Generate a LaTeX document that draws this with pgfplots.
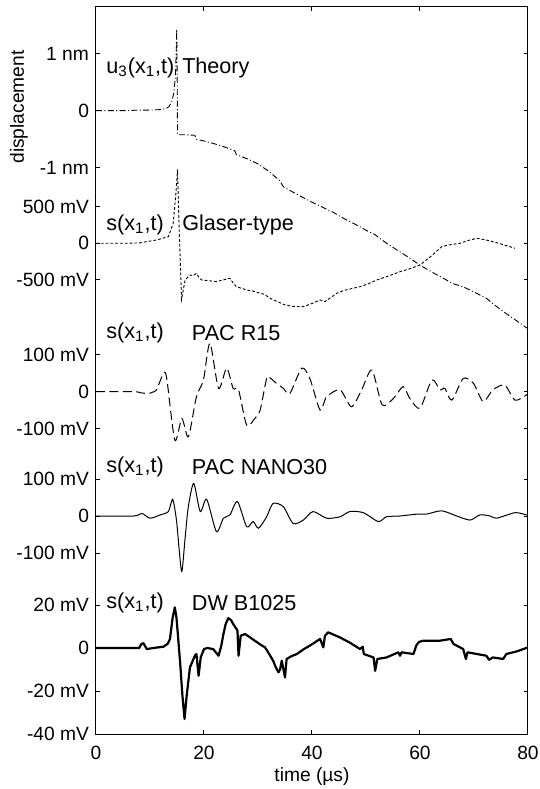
\documentclass[border=0pt]{standalone}
\usepackage{fontspec}
\setmainfont{Liberation Sans}
\usepackage{pgfplots}
\usepackage{pgfplotstable}
\pgfplotsset{compat=1.18}

% time in microseconds, u in nm
\pgfplotstableread{
t u
0 0
5 0
8 0.01
10 0.01
12 0.02
13 0.04
13.5 0.07
14 0.15
14.4 0.3
14.7 0.6
14.85 1.0
14.95 1.43
15.05 0.4
15.1 -0.42
16.5 -0.42
18.3 -0.43
18.6 -0.5
20 -0.53
22 -0.58
24 -0.64
25.7 -0.70
26 -0.77
28 -0.84
30 -0.93
32 -1.06
34 -1.22
34.7 -1.33
36 -1.40
38 -1.50
40 -1.60
42 -1.69
44 -1.78
46 -1.89
48.9 -2.03
50 -2.09
51.7 -2.17
54 -2.33
56 -2.45
58 -2.57
60 -2.70
62 -2.81
64.9 -2.96
66 -3.02
68 -3.08
70 -3.17
72.3 -3.28
74 -3.41
76 -3.55
78 -3.68
79.8 -3.80
}\theory

% Glaser-type sensor, mV
\pgfplotstableread{
t v
0 0
5 0
8 5
11.2 45
13.4 90
14.3 272
14.8 681
15.1 1008
15.4 200
15.85 -763
16.5 -500
17.1 -455
17.4 -432
18.0 -440
18.6 -409
19.1 -470
19.6 -500
21 -510
22.3 -523
23.5 -500
24.8 -477
25.4 -540
26 -591
27.9 -636
29 -650
30.4 -681
31 -690
32.8 -772
33.5 -790
35 -840
36.5 -860
38.4 -863
40 -820
41.5 -772
42.4 -795
44.6 -681
46 -640
48.9 -591
50.5 -550
52 -500
54 -450
56.3 -387
58 -350
60 -296
62 -180
64 -46
65.5 -20
67.4 0
69 40
70.5 68
72 50
73.5 22
75.5 -20
77.6 -68
}\glaser

% PAC R15, mV
\pgfplotstableread{
t v
0 0
7 0
8.3 -3
9.7 -5
10.5 -1
11.2 5
12.5 50
13.1 36
14.6 -132
15.9 -73
17.1 -123
18.6 -14
19.9 32
21.1 132
22.7 9
24.2 64
25.4 9
26.4 5
27.9 -91
29.4 -73
30.4 -50
31.6 36
32.2 38
33.4 23
34.7 9
35.9 -5
38.1 64
39.6 36
41.5 -50
42.7 -14
45.2 5
47.3 -41
49.2 5
51.1 59
53 -36
55.1 -18
56.9 14
58.1 -18
60 -45
62.2 32
63.7 5
64.6 9
65.9 -23
68 36
69.9 23
71.7 -27
73.5 5
75.7 18
77.6 -23
79.7 -9
80 -5
}\rfifteen

% PAC NANO30, mV
\pgfplotstableread{
t v
0 0
7 0
8.5 7
10 -6
11.9 3
13.4 12
14.2 45
14.9 -11
15.4 -90
15.9 -150
16.5 -60
17.1 25
18.1 88
19.3 12
20.5 45
22.3 -42
23.6 -6
24.8 3
26.2 39
27.9 -29
29.1 -15
30.1 -33
31.6 -2
32.8 34
34.7 25
36.5 -20
38.4 -11
40.2 12
42.7 -6
45.2 -2
47 12
49.5 9
52.3 -15
53.8 -2
56.3 0
59.4 5
61.2 5
64 14
66.8 0
69.3 -11
71.1 3
73 0
74.2 -6
77.6 9
79.7 3
80 3
}\nano

% DW B1025, mV
\pgfplotstableread{
t v
0 0
8 0
8.4 1.9
8.8 2.2
9.4 -0.5
10.6 0
12.5 0.6
13.3 2
13.7 4.2
14.2 14.2
14.6 18.9
14.9 14.2
15.3 2
15.6 -7.4
16 -22
16.4 -33
16.8 -22
17.4 -9
18.3 -3.6
18.6 -2.8
19.0 -12.9
19.4 -4.3
20 -0.5
20.6 0
21.7 -0.5
22.7 -3.6
23.2 1
23.6 6.5
24 11
24.5 13.9
25 13
25.4 11.2
26.2 8.1
26.4 -3.6
26.8 5.7
27.6 6.5
28.5 5
29.4 3.4
30.5 1.5
31.3 0.3
32 -2.5
32.8 -5.9
33.3 -9
33.8 -11.3
34.1 -9.8
34.4 -5.9
35 -13.7
35.3 -5.1
36.2 -3.8
37.2 -2.8
38.5 -0.5
39.6 1.1
41.5 4.2
42.1 0.3
42.4 5.7
43 7.3
44 6.2
45.2 4.9
47 2.5
48.9 -0.5
49.4 0.6
49.6 -2.8
51.4 -4.4
51.7 -10.6
52.1 -5.1
53.8 -4.4
56 -2
56.3 -3.6
56.6 -2
58.8 -2.8
59.3 1.1
59.8 2.8
60.6 3.4
63.7 3.4
65.7 4.2
66.2 1.9
68 -0.5
68.5 -5.1
68.8 -2
72.3 -3.6
72.8 -5.5
73.5 -4.4
75.4 -5.1
76 -2.8
77.9 -1.6
79.7 0
80 0.3
}\dw

\newcommand\tickfont{\fontsize{9.6}{11}\selectfont}
\newcommand\notefont{\fontsize{10.8}{12}\selectfont}

\begin{document}
\begin{tikzpicture}
\begin{axis}[
  scale only axis,
  width=216pt, height=363.5pt,
  xmin=0, xmax=80, ymin=0, ymax=727,
  xtick={0,20,40,60,80},
  ytick={0,43,86,129,181,218,255,305.6,342.3,379,454,490.7,527.4,566.1,623.3,680.5},
  yticklabels={-40 mV,-20 mV,0,20 mV,-100 mV,0,100 mV,-100 mV,0,100 mV,-500 mV,0,500 mV,-1 nm,0,1 nm},
  /pgf/number format/assume math mode=true,
  tick label style={font=\tickfont},
  xticklabel style={yshift=-2.5pt},
  xlabel={time (µs)},
  xlabel style={font=\tickfont, at={(axis description cs:0.5,0)}, anchor=center, yshift=-21.5pt},
  major tick length=2pt,
  tick style={black, line width=0.5pt},
  axis line style={line width=0.5pt},
  every axis plot/.append style={black},
]
\addplot[line width=0.45pt, dash pattern=on 3pt off 1.2pt on 0.5pt off 1.2pt]
  table[x=t, y expr={623.3+57.2*\thisrow{u}}] {\theory};
\addplot[line width=0.45pt, dash pattern=on 1.4pt off 1pt]
  table[x=t, y expr={490.7+0.0734*\thisrow{v}}] {\glaser};
\addplot[line width=0.5pt, dash pattern=on 4.5pt off 2.2pt, smooth, tension=0.45]
  table[x=t, y expr={342.3+0.367*\thisrow{v}}] {\rfifteen};
\addplot[line width=0.5pt, smooth, tension=0.45]
  table[x=t, y expr={218+0.37*\thisrow{v}}] {\nano};
\addplot[line width=1.1pt, line join=round]
  table[x=t, y expr={86+2.15*\thisrow{v}}] {\dw};

\node[anchor=west, inner sep=0, font=\notefont] at (axis cs:1.85,666) {u\textsubscript{3}(x\textsubscript{1},t)};
\node[anchor=west, inner sep=0, font=\notefont] at (axis cs:15.9,666) {Theory};
\node[anchor=west, inner sep=0, font=\notefont] at (axis cs:1.85,509) {s(x\textsubscript{1},t)};
\node[anchor=west, inner sep=0, font=\notefont] at (axis cs:15.9,509) {Glaser-type};
\node[anchor=west, inner sep=0, font=\notefont] at (axis cs:1.85,401) {s(x\textsubscript{1},t)};
\node[anchor=west, inner sep=0, font=\notefont] at (axis cs:17.7,401) {PAC R15};
\node[anchor=west, inner sep=0, font=\notefont] at (axis cs:1.85,267) {s(x\textsubscript{1},t)};
\node[anchor=west, inner sep=0, font=\notefont] at (axis cs:17.7,267) {PAC NANO30};
\node[anchor=west, inner sep=0, font=\notefont] at (axis cs:1.85,131) {s(x\textsubscript{1},t)};
\node[anchor=west, inner sep=0, font=\notefont] at (axis cs:17.7,131) {DW B1025};
\end{axis}
% y-axis title beside the top trace
\node[rotate=90, font=\tickfont] at ([shift={(-38.5pt,313.5pt)}]current axis.south west) {displacement};
\pgfresetboundingbox
\useasboundingbox ([shift={(-48pt,-27.5pt)}]current axis.south west) rectangle ([shift={(6pt,3.5pt)}]current axis.north east);
\end{tikzpicture}
\end{document}
